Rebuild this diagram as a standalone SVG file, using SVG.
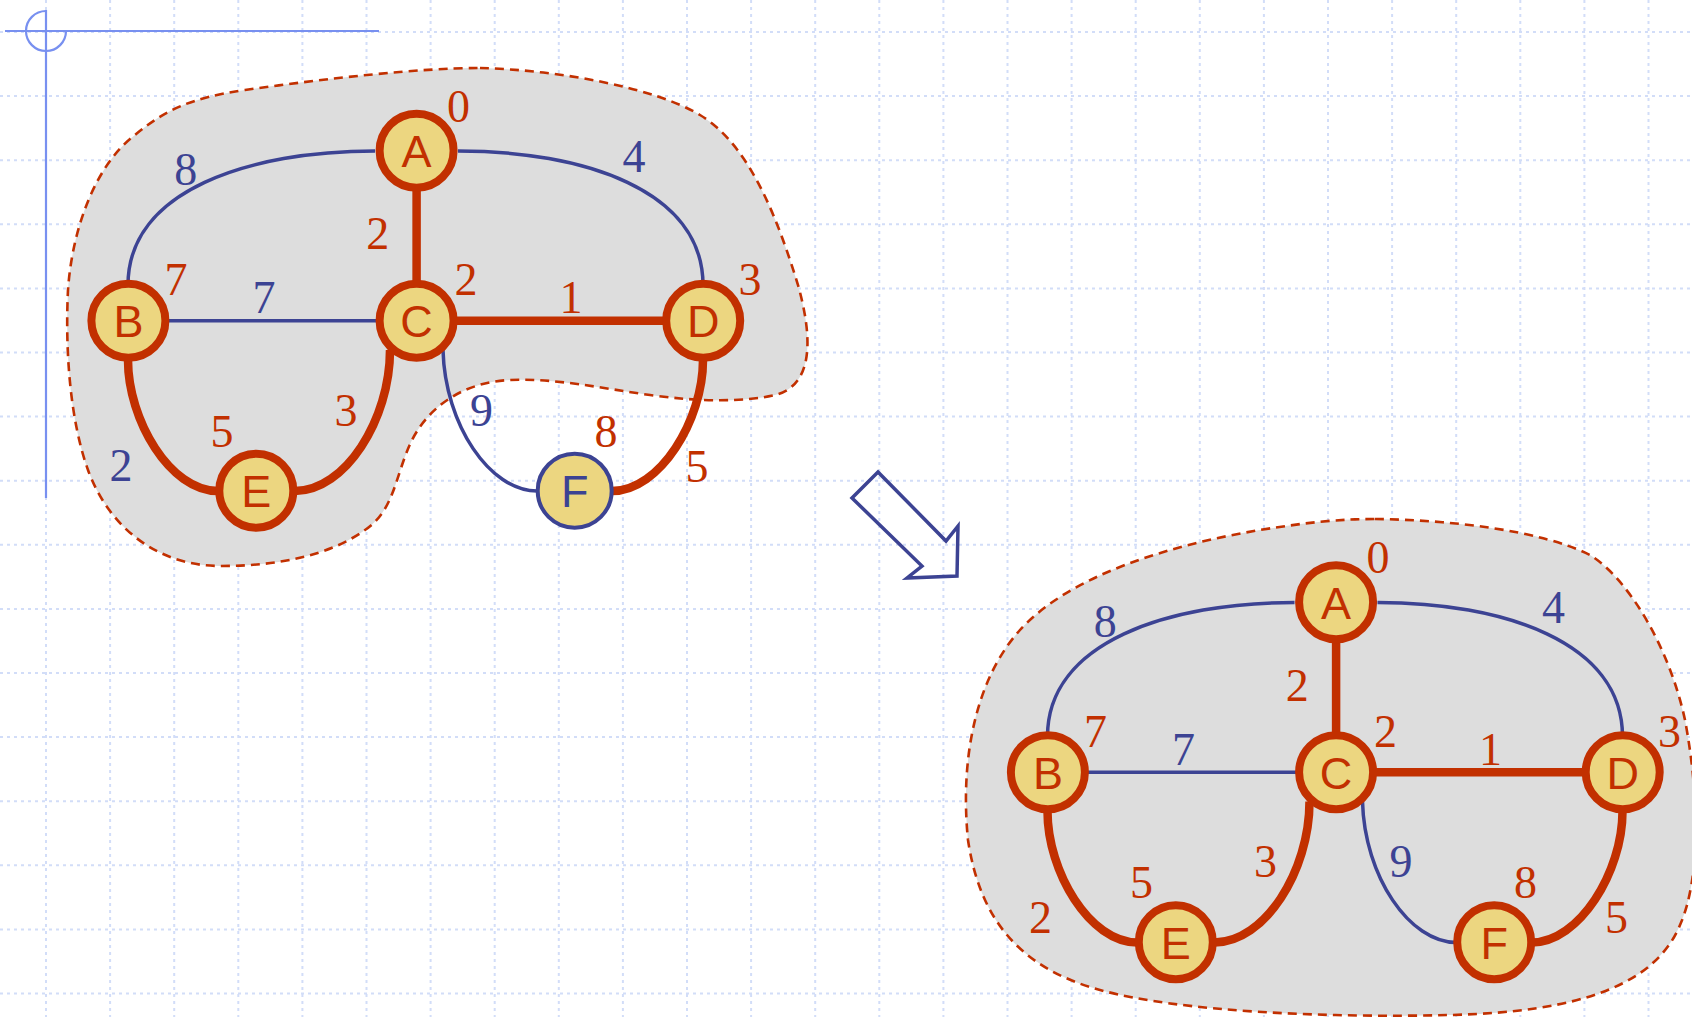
<svg xmlns="http://www.w3.org/2000/svg" width="1692" height="1017" viewBox="0 0 1692 1017">
<style>
.grid{stroke:#d2ddf8;stroke-width:2;stroke-dasharray:3 4;fill:none}
.deco{stroke:#7890f0;stroke-width:2.2;fill:none}
.cloud{fill:#dddddd;stroke:#c23000;stroke-width:2.6;stroke-dasharray:9 6}
.thin{fill:none;stroke:#3c4393;stroke-width:3.5}
.thick{fill:none;stroke:#c23000;stroke-width:8.5}
.node{fill:#ecd680;stroke:#c23000;stroke-width:8}
.nodeb{fill:#ecd680;stroke:#3c4393;stroke-width:4}
.nl{font-family:"Liberation Sans",Arial,sans-serif;font-size:45px;text-anchor:middle;fill:#c23000}
.nlb{fill:#3c4393}
.w{font-family:"Liberation Serif","Times New Roman",serif;font-size:46px;text-anchor:middle}
.r{fill:#c23000}
.b{fill:#3c4393}
.arrow{fill:none;stroke:#3c4393;stroke-width:3.5;stroke-linejoin:miter}
</style>
<rect x="0" y="0" width="1692" height="1017" fill="#ffffff"/>
<g id="grid">
<path class="grid" d="M46,0V1017M110.1,0V1017M174.2,0V1017M238.3,0V1017M302.4,0V1017M366.5,0V1017M430.6,0V1017M494.7,0V1017M558.8,0V1017M622.9,0V1017M687,0V1017M751.1,0V1017M815.2,0V1017M879.3,0V1017M943.4,0V1017M1007.5,0V1017M1071.6,0V1017M1135.7,0V1017M1199.8,0V1017M1263.9,0V1017M1328,0V1017M1392.1,0V1017M1456.2,0V1017M1520.3,0V1017M1584.4,0V1017M1648.5,0V1017"/>
<path class="grid" d="M0,32H1692M0,96.1H1692M0,160.2H1692M0,224.3H1692M0,288.4H1692M0,352.5H1692M0,416.6H1692M0,480.7H1692M0,544.8H1692M0,608.9H1692M0,673H1692M0,737.1H1692M0,801.2H1692M0,865.3H1692M0,929.4H1692M0,993.5H1692"/>
</g>
<g id="decoration">
<path class="deco" d="M5,31H379M46,10V498"/>
<path class="deco" d="M46,11A20,20 0 1 0 66,31"/>
</g>

<path id="cloud1" class="cloud" d="M480,68 C560,70 655,88 700,115 C750,145 778,220 798,285 C812,335 815,385 775,395 C745,402 700,402 650,395 C600,388 555,378 510,380 C465,382 430,405 412,440 C395,475 395,510 365,530 C330,555 280,566 220,566 C160,566 110,530 88,470 C70,420 65,350 68,290 C72,230 95,165 135,135 C165,110 190,98 245,90 C330,78 420,68 480,68 Z"/>

<g id="graph1">
<g id="g1-edges">
<path class="thin" d="M375,151 C250,151 128,190 128,285"/>
<path class="thin" d="M458,151 C583,151 703,190 703,285"/>
<path class="thick" d="M416.6,151 V321"/>
<path class="thin" d="M128,320.7 H416.6"/>
<path class="thick" d="M416.6,320.7 H703"/>
<path class="thick" d="M128,321 V360 C128,420 170,491 218,491"/>
<path class="thick" d="M390,350 C390,420 345,491 295,491"/>
<path class="thin" d="M443,350 C445,425 490,491 537,491"/>
<path class="thick" d="M703,321 V360 C703,420 660,491 612,491"/>
</g>
<g id="g1-A"><circle class="node" cx="416.6" cy="150.7" r="37"/><text class="nl" x="416.6" y="167">A</text></g>
<g id="g1-B"><circle class="node" cx="128.4" cy="320.7" r="37"/><text class="nl" x="128.4" y="337">B</text></g>
<g id="g1-C"><circle class="node" cx="416.6" cy="320.7" r="37"/><text class="nl" x="416.6" y="337">C</text></g>
<g id="g1-D"><circle class="node" cx="703.2" cy="320.7" r="37"/><text class="nl" x="703.2" y="337">D</text></g>
<g id="g1-E"><circle class="node" cx="256.3" cy="490.7" r="37"/><text class="nl" x="256.3" y="507">E</text></g>
<g id="g1-F"><circle class="nodeb" cx="574.7" cy="490.7" r="37"/><text class="nl nlb" x="574.7" y="507">F</text></g>
<g id="g1-labels">
<text class="w r" x="458.5" y="121.5">0</text>
<text class="w b" x="185.7" y="185">8</text>
<text class="w b" x="634" y="171.7">4</text>
<text class="w r" x="377.7" y="249">2</text>
<text class="w r" x="176" y="295">7</text>
<text class="w r" x="466" y="295">2</text>
<text class="w r" x="750" y="295">3</text>
<text class="w b" x="264" y="313">7</text>
<text class="w r" x="571" y="313">1</text>
<text class="w b" x="481.5" y="425.7">9</text>
<text class="w r" x="346" y="425.7">3</text>
<text class="w r" x="222" y="446.7">5</text>
<text class="w b" x="121" y="481">2</text>
<text class="w r" x="606" y="446.7">8</text>
<text class="w r" x="697" y="481.7">5</text>
</g>
</g>

<polygon id="arrow" class="arrow" points="878,472 852,498 922,566 907,578 957,576 958,526 946,541"/>

<path id="cloud2" class="cloud" d="M1375,519 C1450,520 1540,530 1590,555 C1630,580 1670,650 1685,720 C1700,800 1700,880 1680,925 C1655,985 1580,1012 1450,1015 C1330,1018 1180,1012 1100,990 C1020,968 980,920 968,840 C960,760 975,680 1020,630 C1070,575 1170,545 1260,530 C1310,522 1340,519 1375,519 Z"/>

<g id="graph2" transform="translate(919.5,451.5)">
<g id="g2-edges">
<path class="thin" d="M375,151 C250,151 128,190 128,285"/>
<path class="thin" d="M458,151 C583,151 703,190 703,285"/>
<path class="thick" d="M416.6,151 V321"/>
<path class="thin" d="M128,320.7 H416.6"/>
<path class="thick" d="M416.6,320.7 H703"/>
<path class="thick" d="M128,321 V360 C128,420 170,491 218,491"/>
<path class="thick" d="M390,350 C390,420 345,491 295,491"/>
<path class="thin" d="M443,350 C445,425 490,491 537,491"/>
<path class="thick" d="M703,321 V360 C703,420 660,491 612,491"/>
</g>
<g id="g2-A"><circle class="node" cx="416.6" cy="150.7" r="37"/><text class="nl" x="416.6" y="167">A</text></g>
<g id="g2-B"><circle class="node" cx="128.4" cy="320.7" r="37"/><text class="nl" x="128.4" y="337">B</text></g>
<g id="g2-C"><circle class="node" cx="416.6" cy="320.7" r="37"/><text class="nl" x="416.6" y="337">C</text></g>
<g id="g2-D"><circle class="node" cx="703.2" cy="320.7" r="37"/><text class="nl" x="703.2" y="337">D</text></g>
<g id="g2-E"><circle class="node" cx="256.3" cy="490.7" r="37"/><text class="nl" x="256.3" y="507">E</text></g>
<g id="g2-F"><circle class="node" cx="574.7" cy="490.7" r="37"/><text class="nl" x="574.7" y="507">F</text></g>
<g id="g2-labels">
<text class="w r" x="458.5" y="121.5">0</text>
<text class="w b" x="185.7" y="185">8</text>
<text class="w b" x="634" y="171.7">4</text>
<text class="w r" x="377.7" y="249">2</text>
<text class="w r" x="176" y="295">7</text>
<text class="w r" x="466" y="295">2</text>
<text class="w r" x="750" y="295">3</text>
<text class="w b" x="264" y="313">7</text>
<text class="w r" x="571" y="313">1</text>
<text class="w b" x="481.5" y="425.7">9</text>
<text class="w r" x="346" y="425.7">3</text>
<text class="w r" x="222" y="446.7">5</text>
<text class="w r" x="121" y="481">2</text>
<text class="w r" x="606" y="446.7">8</text>
<text class="w r" x="697" y="481.7">5</text>
</g>
</g>
</svg>
